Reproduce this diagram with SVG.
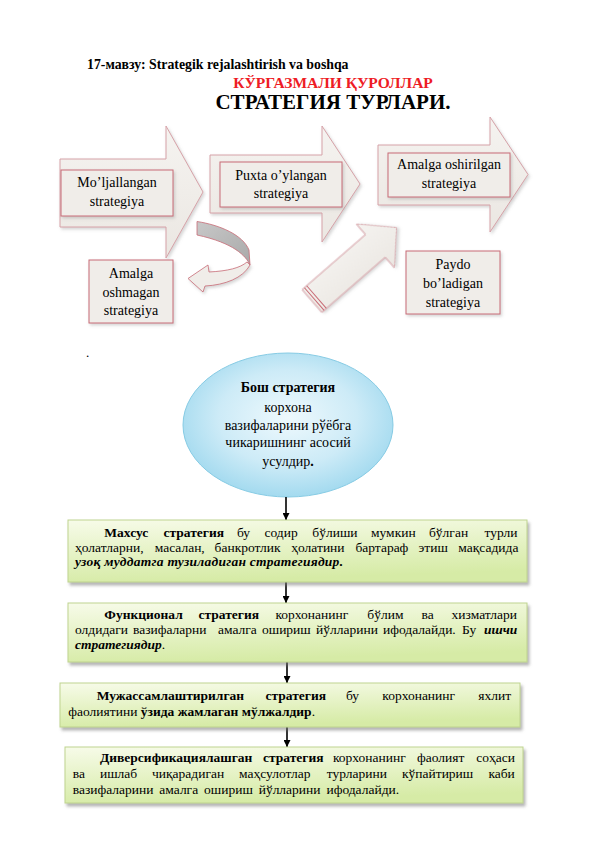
<svg xmlns="http://www.w3.org/2000/svg" width="596" height="842" viewBox="0 0 596 842">
<style>
.t{font-family:"Liberation Serif","Times New Roman","DejaVu Serif",serif;fill:#000}
.lbl{font-size:14px;text-anchor:middle}
.body{font-size:13.5px}
.b{font-weight:bold}
.bi{font-weight:bold;font-style:italic}
.arrow{fill:url(#gArrow);stroke:#d6a2a8;stroke-width:1;filter:url(#sh2)}
.ibox{fill:#f0ede9;stroke:#c86b76;stroke-width:1;filter:url(#sh2)}
.gbox{fill:url(#gGreen);stroke:#bfd38f;stroke-width:1;filter:url(#sh)}
.conn{stroke:#000;stroke-width:1.6;fill:none;marker-end:url(#ah)}
.stripe{stroke:#c86b76;stroke-width:1}
</style>
<defs>
<linearGradient id="gArrow" x1="0" y1="0" x2="0" y2="1">
<stop offset="0" stop-color="#f5f3f0"/>
<stop offset="1" stop-color="#ebe7e2"/>
</linearGradient>
<linearGradient id="gGray" x1="0" y1="0" x2="1" y2="1">
<stop offset="0" stop-color="#c8c8c8"/>
<stop offset="1" stop-color="#a9a9a9"/>
</linearGradient>
<linearGradient id="gGreen" x1="0" y1="0" x2="0.25" y2="1">
<stop offset="0" stop-color="#f7fbe9"/>
<stop offset="1" stop-color="#d6eba6"/>
</linearGradient>
<radialGradient id="gBlue" cx="0.5" cy="0.45" r="0.55">
<stop offset="0" stop-color="#eef9fd"/>
<stop offset="0.6" stop-color="#cdebf7"/>
<stop offset="1" stop-color="#a3daef"/>
</radialGradient>
<filter id="sh" x="-5%" y="-10%" width="112%" height="130%">
<feDropShadow dx="2" dy="3" stdDeviation="1.5" flood-color="#777" flood-opacity="0.55"/>
</filter>
<filter id="sh2" x="-10%" y="-10%" width="125%" height="125%">
<feDropShadow dx="1.5" dy="2" stdDeviation="1.5" flood-color="#888" flood-opacity="0.35"/>
</filter>
<marker id="ah" viewBox="0 0 10 10" refX="10" refY="5" markerWidth="7" markerHeight="7" markerUnits="userSpaceOnUse" orient="auto">
<path d="M0,0 L10,5 L0,10 Z" fill="#000"/>
</marker>
</defs>

<g id="header">
<text class="t b" x="87" y="69" style="font-size:13.8px">17-мавзу: Strategik rejalashtirish va boshqa</text>
<text class="t b" x="333" y="88" style="font-size:15.5px;text-anchor:middle;fill:#ee1c25">КЎРГАЗМАЛИ ҚУРОЛЛАР</text>
<text class="t b" x="333" y="109" style="font-size:21px;text-anchor:middle">СТРАТЕГИЯ ТУРЛАРИ.</text>
</g>

<g id="arrow-moljallangan">
<path class="arrow" d="M60,159 L166,159 L166,126 L203,192 L166,258 L166,227 L60,227 Z"/>
<rect class="ibox" x="61" y="170" width="112" height="46"/>
<text class="t lbl" x="117" y="187">Mo’ljallangan</text>
<text class="t lbl" x="117" y="206">strategiya</text>
</g>

<g id="arrow-puxta">
<path class="arrow" d="M210,155 L322,155 L322,126 L360,184 L322,242 L322,213 L210,213 Z"/>
<rect class="ibox" x="220" y="162" width="122" height="45"/>
<text class="t lbl" x="281" y="180">Puxta o’ylangan</text>
<text class="t lbl" x="281" y="198">strategiya</text>
</g>

<g id="arrow-amalga-oshirilgan">
<path class="arrow" d="M378,145 L490,145 L490,117 L528,174.5 L490,232 L490,205 L378,205 Z"/>
<rect class="ibox" x="388" y="153" width="122" height="44"/>
<text class="t lbl" x="449" y="169">Amalga oshirilgan</text>
<text class="t lbl" x="449" y="188">strategiya</text>
</g>

<g id="amalga-oshmagan">
<rect class="ibox" x="89" y="260" width="84" height="63"/>
<text class="t lbl" x="131" y="278">Amalga</text>
<text class="t lbl" x="131" y="297">oshmagan</text>
<text class="t lbl" x="131" y="315">strategiya</text>
</g>

<g id="paydo">
<rect class="ibox" x="406" y="251" width="94" height="63"/>
<text class="t lbl" x="453" y="269">Paydo</text>
<text class="t lbl" x="453" y="288">bo’ladigan</text>
<text class="t lbl" x="453" y="307">strategiya</text>
</g>

<g id="curved-arrow">
<path d="M197,221.5 C220,225 243,235 249,250 L250,265 C246,256 234,243 197,235 Z" fill="url(#gGray)" stroke="#c86b76" stroke-width="0.8"/>
<path d="M247,262 C240,268 228,271 209,272 L208,265 L188,278.5 L203,292 L205,286 C225,285 243,278 250,265 Z" fill="#f0ede9" stroke="#c86b76" stroke-width="0.8" filter="url(#sh2)"/>
</g>

<g id="diagonal-arrow" transform="translate(312,301) rotate(-41)">
<path class="arrow" d="M0,-15 L84,-15 L84,-29 L112,0 L84,29 L84,15 L0,15 Z"/>
<line class="stripe" x1="3" y1="-15" x2="3" y2="15"/>
<line class="stripe" x1="6" y1="-15" x2="6" y2="15"/>
</g>

<text class="t" x="86" y="357" style="font-size:13px">.</text>

<g id="bosh-strategiya">
<ellipse cx="288" cy="425" rx="105" ry="72" fill="url(#gBlue)" stroke="#86cbe4" stroke-width="1"/>
<text class="t lbl b" x="288" y="392">Бош стратегия</text>
<text class="t lbl" x="288" y="412">корхона</text>
<text class="t lbl" x="288" y="429.5">вазифаларини рўёбга</text>
<text class="t lbl" x="288" y="447">чикаришнинг асосий</text>
<text class="t lbl" x="288" y="466">усулдир<tspan class="b">.</tspan></text>
</g>

<g id="connectors">
<line class="conn" x1="286" y1="497" x2="286" y2="520"/>
<line class="conn" x1="286" y1="582" x2="286" y2="603"/>
<line class="conn" x1="287" y1="662" x2="287" y2="683"/>
<line class="conn" x1="287" y1="727" x2="287" y2="747"/>
</g>

<g id="maxsus">
<rect class="gbox" x="68" y="520" width="459" height="62"/>
<text class="t body" y="537"><tspan class="b" x="104.3">Махсус</tspan><tspan class="b" x="163.5">стратегия</tspan><tspan x="237">бу</tspan><tspan x="264.5">содир</tspan><tspan x="312.3">бўлиши</tspan><tspan x="371">мумкин</tspan><tspan x="429">бўлган</tspan><tspan x="484.5">турли</tspan></text>
<text class="t body" y="551.5"><tspan x="75">ҳолатларни,</tspan><tspan x="154.7">масалан,</tspan><tspan x="214.6">банкротлик</tspan><tspan x="291.3">ҳолатини</tspan><tspan x="355.4">бартараф</tspan><tspan x="418.5">этиш</tspan><tspan x="458.3">мақсадида</tspan></text>
<text class="t body bi" x="75" y="566" textLength="268" lengthAdjust="spacing"><tspan>узоқ</tspan> <tspan>муддатга</tspan> <tspan>тузиладиган</tspan> <tspan>стратегиядир.</tspan></text>
</g>

<g id="funksional">
<rect class="gbox" x="68" y="603" width="459" height="59"/>
<text class="t body" y="619"><tspan class="b" x="104.3">Функционал</tspan><tspan class="b" x="198.5">стратегия</tspan><tspan x="275.5">корхонанинг</tspan><tspan x="367.3">бўлим</tspan><tspan x="421.5">ва</tspan><tspan x="451.6">хизматлари</tspan></text>
<text class="t body" y="634"><tspan x="75">олдидаги</tspan><tspan x="133">вазифаларни</tspan><tspan x="218">амалга</tspan><tspan x="262">ошириш</tspan><tspan x="316">йўлларини</tspan><tspan x="383">ифодалайди.</tspan><tspan x="462">Бу</tspan><tspan class="bi" x="484">ишчи</tspan></text>
<text class="t body" x="75" y="648.5"><tspan class="bi">стратегиядир</tspan>.</text>
</g>

<g id="mujassamlashtirilgan">
<rect class="gbox" x="60" y="683" width="460" height="44"/>
<text class="t body" y="700"><tspan class="b" x="96.7">Мужассамлаштирилган</tspan><tspan class="b" x="265.5">стратегия</tspan><tspan x="346">бу</tspan><tspan x="382.3">корхонанинг</tspan><tspan x="478.3">яхлит</tspan></text>
<text class="t body" x="68.3" y="715.5"><tspan>фаолиятини</tspan> <tspan class="b">ўзида</tspan> <tspan class="b">жамлаган</tspan> <tspan class="b">мўлжалдир</tspan>.</text>
</g>

<g id="diversifikatsiyalashgan">
<rect class="gbox" x="65" y="747" width="458" height="56"/>
<text class="t body" y="762"><tspan class="b" x="100">Диверсификациялашган</tspan><tspan class="b" x="263">стратегия</tspan><tspan x="333">корхонанинг</tspan><tspan x="417">фаолият</tspan><tspan x="476.3">соҳаси</tspan></text>
<text class="t body" y="778"><tspan x="72.7">ва</tspan><tspan x="100">ишлаб</tspan><tspan x="152">чиқарадиган</tspan><tspan x="239">маҳсулотлар</tspan><tspan x="326.7">турларини</tspan><tspan x="402">кўпайтириш</tspan><tspan x="488.4">каби</tspan></text>
<text class="t body" x="72.7" y="794" word-spacing="2.5"><tspan>вазифаларини</tspan> <tspan>амалга</tspan> <tspan>ошириш</tspan> <tspan>йўлларини</tspan> <tspan>ифодалайди.</tspan></text>
</g>
</svg>
